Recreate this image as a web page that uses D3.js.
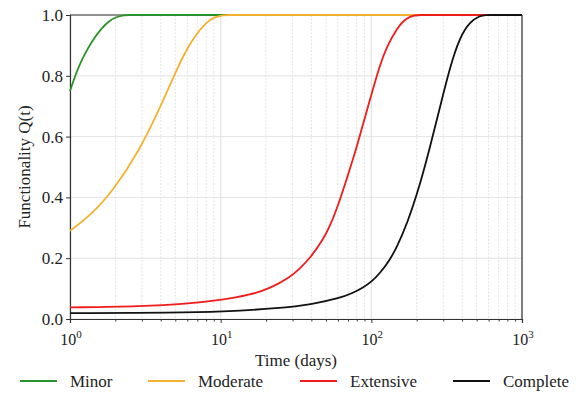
<!DOCTYPE html>
<html>
<head>
<meta charset="utf-8">
<script src="https://cdn.jsdelivr.net/npm/d3@7"></script>
<style>
  body { margin: 0; background: #fff; }
  text { font-family: "Liberation Serif", "DejaVu Serif", serif; fill: #222; }
</style>
</head>
<body>
<div class="chart"></div>
<script>
// values: time (days) and functionality Q(t)
var minorT = [1, 1.1, 1.2, 1.4, 1.6, 1.8, 2.0, 2.3, 2.5, 2.7, 1000];
var minorQ = [0.75, 0.81, 0.855, 0.915, 0.953, 0.979, 0.993, 1.0, 1.0, 1.0, 1.0];

var moderateT = [1, 1.4, 1.95, 2.9, 4.0, 4.85, 5.7, 6.6, 8.0, 9.0, 10.5, 11.5, 12.5, 1000];
var moderateQ = [0.29, 0.345, 0.425, 0.555, 0.70, 0.795, 0.87, 0.925, 0.975, 0.993, 1.0, 1.0, 1.0, 1.0];

var extensiveT = [1, 3, 6, 10, 15.7, 21.3, 28.8, 33.5, 39.2, 48, 53, 58.9, 68.6, 80, 88.5, 103, 114, 126.5, 147, 170, 195, 215, 235, 1000];
var extensiveQ = [0.038, 0.042, 0.05, 0.062, 0.079, 0.101, 0.137, 0.166, 0.2, 0.262, 0.305, 0.36, 0.46, 0.565, 0.645, 0.76, 0.835, 0.895, 0.955, 0.99, 1.0, 1.0, 1.0, 1.0];

var completeT = [1, 5, 10, 24.8, 41, 62, 75, 88.5, 100, 114, 133, 147, 172, 210, 245, 285, 333, 388, 452, 526, 580, 630, 680, 1000];
var completeQ = [0.019, 0.021, 0.024, 0.035, 0.049, 0.069, 0.085, 0.104, 0.122, 0.15, 0.195, 0.235, 0.31, 0.44, 0.565, 0.695, 0.83, 0.929, 0.978, 0.998, 1.0, 1.0, 1.0, 1.0];

var seriesNames = ["Minor", "Moderate", "Extensive", "Complete"];
var seriesColors = ["#2a922a", "#f3b22f", "#f01c1c", "#111111"];
var seriesT = [minorT, moderateT, extensiveT, completeT];
var seriesQ = [minorQ, moderateQ, extensiveQ, completeQ];

var yTicks = [0, 0.2, 0.4, 0.6, 0.8, 1.0];
var xMajor = [1, 10, 100, 1000];

var svgWidth = 582;
var svgHeight = 394;
var margin = { top: 15, right: 60, bottom: 75, left: 70 };
var width = svgWidth - margin.left - margin.right;
var height = svgHeight - margin.top - margin.bottom;

var svg = d3.select(".chart").append("svg")
  .attr("width", svgWidth)
  .attr("height", svgHeight);

var chartGroup = svg.append("g")
  .attr("transform", `translate(${margin.left}, ${margin.top})`);

var x = d3.scaleLog().domain([1, 1000]).range([0, width]);
var y = d3.scaleLinear().domain([0, 1]).range([height, 0]);

// minor tick positions 2..9 per decade
var xMinor = [];
[1, 10, 100].forEach(function (d) {
  for (var k = 2; k <= 9; k++) xMinor.push(d * k);
});

// grid
chartGroup.append("g").selectAll("line")
  .data(xMinor).enter().append("line")
  .attr("x1", d => x(d)).attr("x2", d => x(d))
  .attr("y1", 0).attr("y2", height)
  .attr("stroke", "#d8d8d8").attr("stroke-width", 0.7)
  .attr("stroke-dasharray", "2,1.5");

chartGroup.append("g").selectAll("line")
  .data(xMajor).enter().append("line")
  .attr("x1", d => x(d)).attr("x2", d => x(d))
  .attr("y1", 0).attr("y2", height)
  .attr("stroke", "#d4d4d4").attr("stroke-width", 0.8);

chartGroup.append("g").selectAll("line")
  .data(yTicks).enter().append("line")
  .attr("x1", 0).attr("x2", width)
  .attr("y1", d => y(d)).attr("y2", d => y(d))
  .attr("stroke", "#dcdcdc").attr("stroke-width", 0.8);

// axes
var bottomAxis = d3.axisBottom(x).tickValues(xMajor).tickSize(4).tickFormat("");
var minorAxis = d3.axisBottom(x).tickValues(xMinor).tickSize(2.5).tickFormat("");
var leftAxis = d3.axisLeft(y).tickValues(yTicks).tickSize(4).tickFormat(d3.format(".1f"));

chartGroup.append("g")
  .attr("transform", `translate(0, ${height})`)
  .call(bottomAxis);
chartGroup.append("g")
  .attr("transform", `translate(0, ${height})`)
  .call(minorAxis)
  .select(".domain").remove();

var yAxisG = chartGroup.append("g").call(leftAxis);
yAxisG.selectAll("text")
  .style("font-size", "17px")
  .style("font-family", "'Liberation Serif', serif")
  .attr("x", -7);

chartGroup.selectAll(".domain").attr("stroke", "#333").attr("stroke-width", 1.2);
chartGroup.selectAll(".tick line").attr("stroke", "#333");

// x tick labels as 10^n
var xLabels = chartGroup.append("g");
xMajor.forEach(function (d, i) {
  var t = xLabels.append("text")
    .attr("x", x(d) + 1)
    .attr("y", height + 26)
    .attr("text-anchor", "middle")
    .style("font-size", "16px");
  t.append("tspan").text("10");
  t.append("tspan").attr("dy", -7).style("font-size", "11px").text(i);
});

// right and top spines
chartGroup.append("line")
  .attr("x1", width).attr("x2", width).attr("y1", 0).attr("y2", height)
  .attr("stroke", "#333").attr("stroke-width", 1.2);
chartGroup.append("line")
  .attr("x1", 0).attr("x2", width).attr("y1", 0).attr("y2", 0)
  .attr("stroke", "#333").attr("stroke-width", 1.2);

// curves (B-spline through the read points, smooths reading noise)
var line = d3.line()
  .x(d => x(d[0]))
  .y(d => y(d[1]))
  .curve(d3.curveBasis);

seriesNames.forEach(function (name, i) {
  var pts = seriesT[i].map((t, j) => [t, seriesQ[i][j]]);
  chartGroup.append("path")
    .datum(pts)
    .attr("fill", "none")
    .attr("stroke", seriesColors[i])
    .attr("stroke-width", 1.8)
    .attr("d", line);
});

// axis titles
chartGroup.append("text")
  .attr("x", width / 2)
  .attr("y", height + 47)
  .attr("text-anchor", "middle")
  .style("font-size", "17px")
  .text("Time (days)");

chartGroup.append("text")
  .attr("transform", "rotate(-90)")
  .attr("x", -152)
  .attr("y", -40)
  .attr("text-anchor", "middle")
  .style("font-size", "17px")
  .text("Functionality Q(t)");

// legend
var legendX = [20, 148, 300, 453];
var legend = svg.append("g");
seriesNames.forEach(function (name, i) {
  legend.append("line")
    .attr("x1", legendX[i]).attr("x2", legendX[i] + 37)
    .attr("y1", 381).attr("y2", 381)
    .attr("stroke", seriesColors[i])
    .attr("stroke-width", 1.8);
  legend.append("text")
    .attr("x", legendX[i] + 50)
    .attr("y", 387)
    .style("font-size", "17px")
    .text(name);
});
</script>
</body>
</html>
